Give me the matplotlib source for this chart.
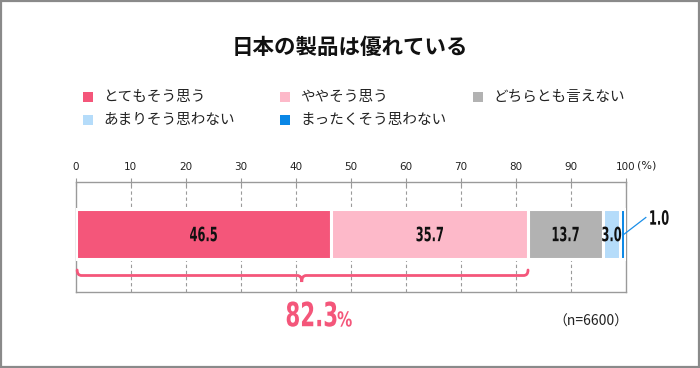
#
#  plot.py
#
#  Single stacked bar: "日本の製品は優れている"
#
################################################################

import numpy as np
import matplotlib
matplotlib.use("Agg")
import matplotlib.pyplot as plt
from matplotlib.path import Path
from matplotlib.patches import PathPatch, Rectangle
from matplotlib.textpath import TextPath
from matplotlib.font_manager import FontProperties
import matplotlib.transforms as mtrans

#  data
categories = ["とてもそう思う", "ややそう思う", "どちらとも言えない",
              "あまりそう思わない", "まったくそう思わない"]
values = [46.5, 35.7, 13.7, 3.0, 1.0]
colors = ["#f4567a", "#fdb9c9", "#b2b2b2", "#b5dcfa", "#0a87e6"]
ticks = [0, 10, 20, 30, 40, 50, 60, 70, 80, 90, 100]
total_agree = "82.3"
n_label = "（n=6600）"
title = "日本の製品は優れている"

jp = ["Noto Sans CJK JP", "DejaVu Sans"]
plt.rcParams['font.family'] = jp

def NarrowText(ax, x, y, s, em, sx, color, ha="center", va="center", weight="bold"):
    #  condensed text: glyph outlines squeezed horizontally (no narrow font installed)
    fp = FontProperties(family="DejaVu Sans", weight=weight)
    tp = TextPath((0, 0), s, size=em, prop=fp)
    ext = tp.get_extents()
    ax_ = {"left": ext.x0, "center": (ext.x0 + ext.x1) / 2, "right": ext.x1}[ha]
    ay_ = {"bottom": ext.y0, "center": (ext.y0 + ext.y1) / 2, "top": ext.y1}[va]
    tr = (mtrans.Affine2D().translate(-ax_, -ay_).scale(sx, 1.0)
          + mtrans.ScaledTranslation(x, y, ax.transData))
    p = PathPatch(tp, transform=tr, facecolor=color, edgecolor="none",
                  zorder=6, clip_on=False)
    ax.add_patch(p)
    return p

fig = plt.figure(figsize=(7.0, 3.68), dpi=100)
fig.patch.set_facecolor("white")
fig.add_artist(Rectangle((0.001, 0.002), 0.997, 0.995, transform=fig.transFigure,
                         fill=False, edgecolor="#8a8a8a", linewidth=1.6))

fig.text(0.5, 0.872, title, ha="center", va="center", fontsize=15.5,
         fontweight="bold", color="#111111")

#  legend, laid out by hand
leg_x = [88, 285, 478, 88, 285]
leg_y = [97, 97, 97, 120, 120]
for lab, c, lx, ly in zip(categories, colors, leg_x, leg_y):
    fig.add_artist(Rectangle(((lx - 5) / 700, (368 - ly - 5) / 368), 10 / 700, 10 / 368,
                             transform=fig.transFigure, facecolor=c, edgecolor="none"))
    fig.text((lx + 15) / 700, (368 - ly) / 368, lab, ha="left", va="center",
             fontsize=10.5, color="#222222")

#  axes: 0 at x=75.5, 100 at x=626; top line y=182, bottom y=292
ax = fig.add_axes([75.5 / 700, 76 / 368, 550.5 / 700, 110 / 368])
ax.set_xlim(0, 100)
ax.set_ylim(-1.16, 1.04)

left = np.concatenate([[0], np.cumsum(values)[:-1]])
ax.barh([0] * len(values), values, left=left, height=1.0, color=colors,
        edgecolor="white", linewidth=2.2, zorder=3)

for i, (v, l) in enumerate(zip(values, left)):
    if i == len(values) - 1:
        x0 = l + v
        ax.plot([x0 - 0.2, 103.6], [0.0, 0.33], color="#1a8ee8", lw=0.9,
                zorder=4, clip_on=False)
        NarrowText(ax, 104.4, 0.33, f"{v:.1f}", 19.7, 0.58, "#111111", ha="left")
    else:
        NarrowText(ax, l + v / 2, 0, f"{v:.1f}", 19.7, 0.58, "#111111")

#  spines, ticks, grid
for s in ax.spines.values():
    s.set_color("#9a9a9a")
    s.set_linewidth(1.0)
ax.xaxis.tick_top()
ax.set_xticks(ticks)
ax.set_xticklabels([str(t) for t in ticks], fontsize=7.5, family="DejaVu Sans",
                   color="#222222")
ax.tick_params(axis="x", direction="inout", length=6, width=0.8, color="#9a9a9a", pad=4)
ax.set_yticks([])
for t in ticks[1:-1]:
    ax.axvline(t, color="#9a9a9a", lw=0.8, ls=(0, (3, 2.5)), zorder=1)

ax.annotate("(%)", xy=(100, 1), xycoords=("data", "axes fraction"),
            xytext=(8, 8), textcoords="offset points", ha="left", va="bottom",
            fontsize=8, family="DejaVu Sans", color="#222222", annotation_clip=False)

#  brace under the agree segments
span = values[0] + values[1]
mid = span / 2
ye, yl, yp = -0.72, -0.83, -0.96
rx = 0.8
verts = [(0.3, ye), (0.3, yl), (0.3 + rx, yl),
         (mid - rx, yl), (mid, yl), (mid, yp),
         (mid, yl), (mid + rx, yl),
         (span - rx, yl), (span, yl), (span, ye)]
codes = [Path.MOVETO, Path.CURVE3, Path.CURVE3,
         Path.LINETO, Path.CURVE3, Path.CURVE3,
         Path.CURVE3, Path.CURVE3,
         Path.LINETO, Path.CURVE3, Path.CURVE3]
ax.add_patch(PathPatch(Path(verts, codes), fill=False, edgecolor=colors[0],
                       lw=2.0, capstyle="round", zorder=4, clip_on=False))

NarrowText(ax, 47.4, -1.854, total_agree, 33.4, 0.64, colors[0], ha="right", va="bottom")
NarrowText(ax, 47.6, -1.854, "%", 20.5, 0.74, colors[0], ha="left", va="bottom")

ax.text(100.4, -1.76, n_label, ha="right", va="center", fontsize=10,
        color="#222222", clip_on=False)

plt.savefig("out.png", dpi=100, facecolor="white")
